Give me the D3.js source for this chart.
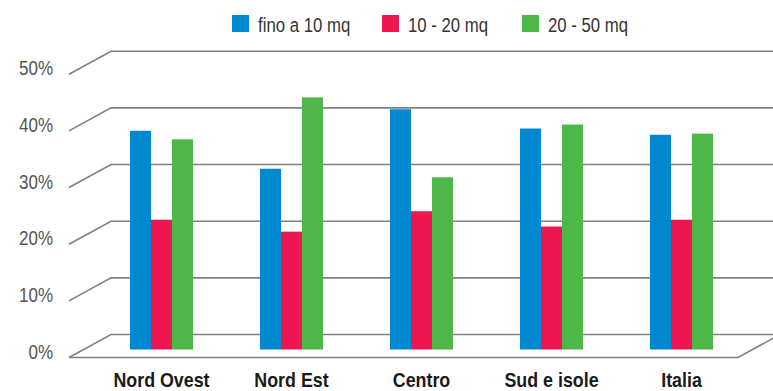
<!DOCTYPE html>
<html>
<head>
<meta charset="utf-8">
<script src="https://cdn.jsdelivr.net/npm/d3@7"></script>
<style>
  html, body { margin: 0; padding: 0; background: #fff; }
  svg { display: block; }
  text { font-family: "Liberation Sans", Arial, sans-serif; }
</style>
</head>
<body>
<svg id="chart" width="773" height="391"></svg>
<script>
// Share of units by surface class, per geographic area
const categories = ["Nord Ovest", "Nord Est", "Centro", "Sud e isole", "Italia"];
const seriesNames = ["fino a 10 mq", "10 - 20 mq", "20 - 50 mq"];
const fino10 = [0.386, 0.319, 0.424, 0.390, 0.379];
const da10a20 = [0.229, 0.208, 0.244, 0.217, 0.229];
const da20a50 = [0.371, 0.445, 0.304, 0.397, 0.381];
const tickValues = [0, 0.1, 0.2, 0.3, 0.4, 0.5];
const colors = ["#0088d1", "#ed1651", "#4db848"];

const values = [fino10, da10a20, da20a50];
const rows = categories.map((c, i) => ({
  category: c,
  items: seriesNames.map((s, k) => ({ series: s, value: values[k][i], color: colors[k] }))
}));

const svg = d3.select("#chart");

// Narrow lettering: a horizontally compressed sans
function narrowText(sel, sx) {
  return sel.attr("transform", d => `scale(${sx},1)`);
}

// Oblique floor: bars stand on a middle plane; the wall sits behind it
const depthFront = { dx: -14.5, dy: 8 };
const depthBack = { dx: 27.5, dy: -15 };

const y = d3.scaleLinear().domain([0, 0.5]).range([349.5, 66.2]);
const x0 = d3.scaleBand().domain(categories).range([96.5, 746.5]);
const x1 = d3.scaleBand().domain(seriesNames).range([33.5, 96.5]);

const wallLeft = 83.5;   // left edge of the bar plane
const wallRight = 752.5; // right edge of the bar plane

const grid = svg.append("g").attr("fill", "none").attr("stroke", "#808080").attr("stroke-width", 1.6);

// Back-wall gridlines with their slanted side-wall segments
tickValues.forEach(t => {
  const yb = y(t) + depthBack.dy;
  const yf = y(t) + depthFront.dy;
  const xb = wallLeft + depthBack.dx;
  const xf = wallLeft + depthFront.dx;
  grid.append("path").attr("d", `M${xf},${yf}L${xb},${yb}L${wallRight + depthBack.dx + 20},${yb}`);
});

// Floor outline: front edge and right side edge
{
  const yf = y(0) + depthFront.dy;
  const yb = y(0) + depthBack.dy;
  grid.append("path").attr("d",
    `M${wallLeft + depthFront.dx},${yf}L${wallRight + depthFront.dx},${yf}L${wallRight + depthBack.dx},${yb}`);
}

// Tick labels along the front edge
const ticks = svg.append("g").selectAll("g").data(tickValues).join("g")
  .attr("transform", d => `translate(53,${y(d) + depthFront.dy + 1})`);
ticks.append("text")
  .attr("text-anchor", "end")
  .attr("fill", "#555")
  .attr("font-size", 21)
  .call(narrowText, 0.81)
  .text(d3.format(".0%"));

// Bars
const groups = svg.append("g").selectAll("g").data(rows).join("g")
  .attr("transform", d => `translate(${x0(d.category)},0)`);
groups.selectAll("rect").data(d => d.items).join("rect")
  .attr("x", d => x1(d.series))
  .attr("y", d => y(d.value))
  .attr("width", x1.bandwidth())
  .attr("height", d => y(0) - y(d.value))
  .attr("fill", d => d.color);

// Category labels
const cats = svg.append("g").selectAll("g").data(categories).join("g")
  .attr("transform", d => `translate(${x0(d) + x0.bandwidth() / 2},387)`);
cats.append("text")
  .attr("text-anchor", "middle")
  .attr("font-weight", "bold")
  .attr("font-size", 20.5)
  .attr("fill", "#1a1a1a")
  .call(narrowText, 0.87)
  .text(d => d);

// Legend
const legendX = [232, 382, 522];
const legend = svg.append("g").selectAll("g").data(seriesNames).join("g")
  .attr("transform", (d, i) => `translate(${legendX[i]},15)`);
legend.append("rect").attr("width", 17).attr("height", 17).attr("fill", (d, i) => colors[i]);
legend.append("g").attr("transform", "translate(26,17)")
  .append("text").attr("font-size", 19.5).attr("fill", "#333")
  .call(narrowText, 0.86)
  .text(d => d);
</script>
</body>
</html>
